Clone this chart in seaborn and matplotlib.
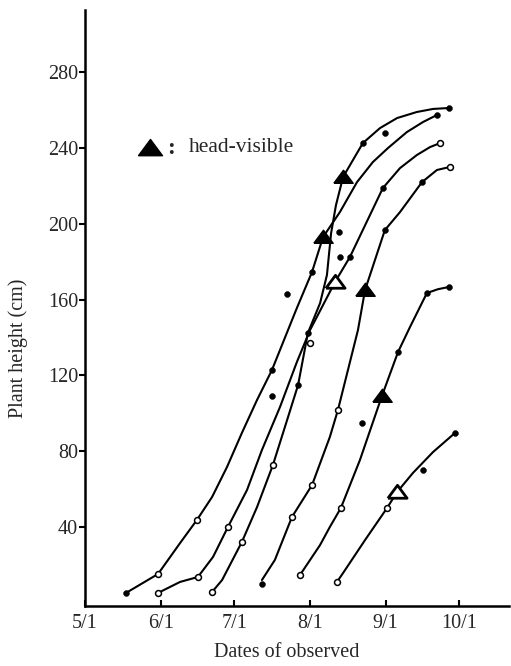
import numpy as np
import pandas as pd
import matplotlib
matplotlib.use('Agg')
import matplotlib.pyplot as plt
import seaborn as sns

# x values are days after 5/1, heights in cm
month_ticks = [0, 31, 61, 92, 123, 153]
month_labels = ['5/1', '6/1', '7/1', '8/1', '9/1', '10/1']
height_ticks = [40, 80, 120, 160, 200, 240, 280]

# growth curves (hand drawn lines)
a_day = [16.8, 29.9, 38.9, 45.8, 52.0, 58.1, 64.2, 70.4, 76.5, 86.7, 92.9, 97.4,
         104.3, 111.3, 117.8, 124.0, 131.7, 138.3, 144.0]
a_h = [5.3, 15.3, 31.6, 43.8, 55.9, 71.7, 89.7, 107.1, 122.9, 155.6, 174.6, 193.0,
       206.2, 222.0, 232.6, 240.0, 248.4, 253.7, 257.4]

b_day = [29.9, 38.9, 46.2, 52.4, 58.5, 66.3, 72.4, 79.8, 86.7, 92.1, 102.3, 108.4,
         116.6, 121.9, 128.9, 135.8, 141.2, 145.3]
b_h = [5.3, 11.1, 13.7, 24.3, 40.1, 59.6, 80.7, 103.4, 127.1, 144.0, 169.3, 182.5,
       204.6, 218.9, 229.4, 236.3, 240.5, 242.6]

c_day = [52.0, 56.1, 64.2, 70.4, 76.9, 82.7, 87.2, 91.2, 96.2, 99.0, 100.7, 102.7,
         105.6, 113.7, 120.7, 127.7, 135.8, 142.4, 148.9]
c_h = [5.8, 12.1, 32.2, 50.6, 72.8, 96.5, 115.0, 142.4, 158.2, 173.0, 195.1, 209.9,
       224.7, 242.6, 250.5, 255.8, 259.0, 260.6, 261.1]

d_day = [72.4, 77.7, 84.7, 92.9, 100.2, 103.5, 107.6, 111.7, 114.6, 122.7, 128.9,
         137.9, 144.0, 149.3]
d_h = [12.1, 22.7, 45.4, 62.2, 87.6, 101.8, 122.9, 144.0, 165.1, 196.7, 206.2,
       222.0, 228.4, 230.0]

e_day = [88.0, 96.2, 100.2, 104.7, 112.5, 121.5, 128.1, 133.0, 139.9, 144.4, 148.9]
e_h = [14.8, 30.6, 40.1, 50.1, 75.4, 109.2, 132.4, 145.6, 163.5, 165.5, 166.7]

f_day = [103.1, 105.6, 114.6, 123.6, 127.7, 134.2, 142.4, 151.4]
f_h = [11.1, 15.8, 33.2, 50.1, 58.5, 68.6, 79.6, 89.7]

# observed points
dot_day = [16.8, 72.4, 76.5, 76.5, 82.7, 92.9, 87.2, 91.2, 103.9, 104.3, 108.4, 113.7,
           122.7, 121.9, 148.9, 144.0, 122.7, 137.9, 113.3, 128.1, 139.9, 148.9, 138.3, 151.4]
dot_h = [5.3, 10.0, 122.9, 109.2, 163.0, 174.6, 115.0, 142.4, 195.7, 182.5, 182.5, 242.6,
         247.9, 218.9, 261.1, 257.4, 196.7, 222.0, 94.9, 132.4, 163.5, 166.7, 70.1, 89.7]

circ_day = [29.9, 45.8, 29.9, 46.2, 58.5, 52.0, 64.2, 76.9, 84.7, 92.9, 103.5, 104.7,
            88.0, 103.1, 123.6, 145.3, 149.3, 92.1]
circ_h = [15.3, 43.8, 5.3, 13.7, 40.1, 5.8, 32.2, 72.8, 45.4, 62.2, 101.8, 50.1,
          14.8, 11.1, 50.1, 242.6, 230.0, 137.1]

# head-visible
head_day = [97.4, 105.6, 114.6, 121.5]
head_h = [193.0, 224.7, 165.1, 109.2]
head_open_day = [102.3, 127.7]
head_open_h = [169.3, 58.5]

sns.set_theme(style='white')
plt.rcParams['font.family'] = ['Liberation Serif', 'DejaVu Serif']

curves = []
for name, xs, ys in [('a', a_day, a_h), ('b', b_day, b_h), ('c', c_day, c_h),
                     ('d', d_day, d_h), ('e', e_day, e_h), ('f', f_day, f_h)]:
    curves.append(pd.DataFrame({'curve': name, 'day': xs, 'height': ys}))
curves_df = pd.concat(curves, ignore_index=True)

fig = plt.figure(figsize=(5.11, 6.66), dpi=100)
ax = fig.add_axes([85 / 511, 60 / 666, 424 / 511, 596 / 666])

sns.lineplot(data=curves_df, x='day', y='height', units='curve', estimator=None,
             sort=False, color='black', lw=1.5, legend=False, ax=ax,
             solid_joinstyle='round', solid_capstyle='round')

sns.scatterplot(x=dot_day, y=dot_h, color='black', s=18, edgecolor='black', ax=ax, zorder=3)
sns.scatterplot(x=circ_day, y=circ_h, color='white', s=18, edgecolor='black',
                linewidth=1.1, ax=ax, zorder=3)

tri = [(-1, -0.6), (1, -0.6), (0, 0.75), (-1, -0.6)]
sns.scatterplot(x=head_day, y=head_h, marker=tri, color='black', s=190,
                edgecolor='black', ax=ax, zorder=4)
sns.scatterplot(x=head_open_day, y=head_open_h, marker=tri, color='white', s=190,
                edgecolor='black', linewidth=2, ax=ax, zorder=4)

# key
ax.scatter([26.6], [240], marker=tri, s=300, color='black', zorder=4)
ax.text(33.5, 240, ':', fontsize=17, fontweight='bold', va='center', ha='left')
ax.text(42.5, 240.5, 'head-visible', fontsize=15.5, va='center', ha='left')

ax.set_xlim(0, 173.5)
ax.set_ylim(-1.6, 312.8)
ax.set_xticks(month_ticks)
ax.set_xticklabels(month_labels)
ax.set_yticks(height_ticks)

sns.despine(ax=ax)
for side in ['left', 'bottom']:
    ax.spines[side].set_color('black')
    ax.spines[side].set_linewidth(1.8)

ax.tick_params(axis='x', direction='in', length=4, width=1.5, color='black',
               labelsize=14.5, pad=6, bottom=True)
ax.tick_params(axis='y', direction='out', length=4, width=1.5, color='black',
               labelsize=14.5, pad=1, left=True)

ax.set_xlabel('Dates of observed', fontsize=14.5)
ax.set_ylabel('Plant height (cm)', fontsize=14.5)
ax.xaxis.set_label_coords(0.476, -0.062)
ax.yaxis.set_label_coords(-0.135, 0.433)

fig.savefig('out.png', dpi=100)
